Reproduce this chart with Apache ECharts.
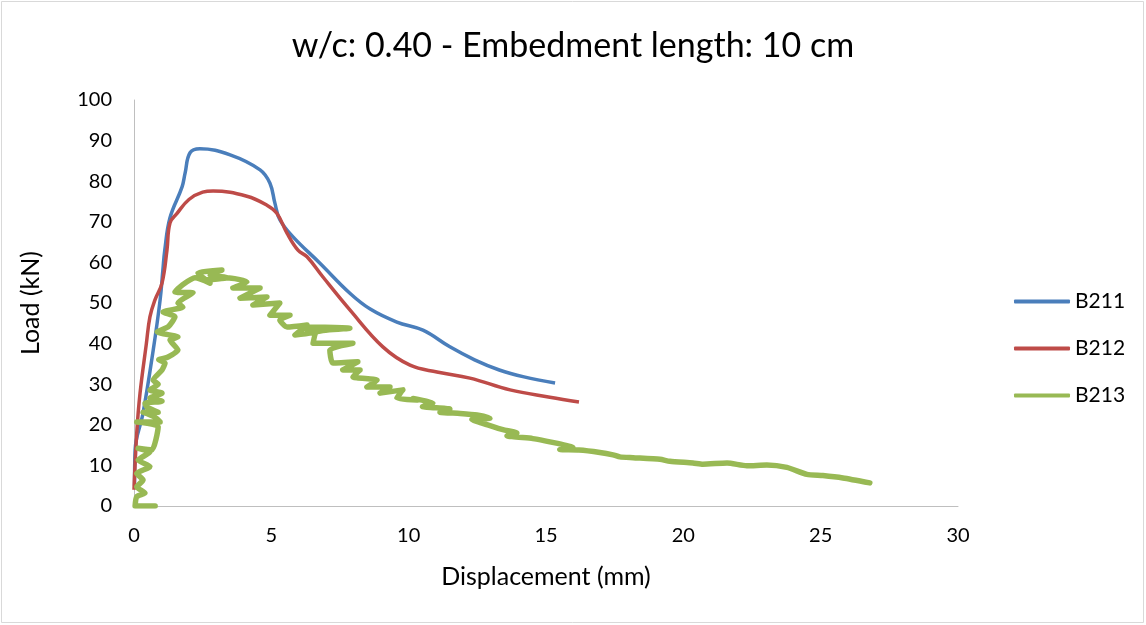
<!DOCTYPE html>
<html>
<head>
<meta charset="utf-8">
<script src="https://cdn.jsdelivr.net/npm/echarts@6/dist/echarts.min.js"></script>
<style>
html,body{margin:0;padding:0;background:#fff;}
#chart{width:1146px;height:625px;}
</style>
</head>
<body>
<div id="chart"></div>
<script>
const titleText = 'w/c: 0.40 - Embedment length: 10 cm';
const xName = 'Displacement (mm)';
const yName = 'Load (kN)';
const seriesNames = ['B211', 'B212', 'B213'];

const b211 = [[0.02,5],[0.04,13.8],[0.33,22.9],[0.7,38.4],[0.95,50.7],[1.05,58],[1.12,63],[1.31,71],[1.75,78.6],[1.86,82],[2.04,87],[2.4,88],[3.5,86.5],[4.59,82.8],[4.95,79.5],[5.13,74.6],[5.31,70.5],[5.79,66.3],[6.77,59.8],[7.86,52.4],[8.6,48.5],[9.57,45.3],[10.52,43.3],[11.5,39.2],[12.4,36],[13.3,33.5],[14.2,31.8],[15.33,30.3]];

const b212 = [[0,4],[0.1,18],[0.22,27.8],[0.45,40],[0.58,46.6],[0.76,50.7],[1.02,54.9],[1.2,63],[1.31,69.7],[1.56,72],[2.0,75.5],[2.5,77.3],[2.88,77.6],[4.11,76.3],[4.84,74.1],[5.2,72.1],[5.57,67.2],[5.97,63],[6.3,61.4],[6.88,56.4],[7.86,48.3],[9.06,39.2],[10.05,34.7],[11.03,33],[12.23,31.5],[13.69,28.6],[15.14,26.8],[16.2,25.6]];

const b213 = [[0.77,0],[0.04,0],[0.1,2.3],[0.4,3.2],[0.1,4.7],[0.33,6.4],[0.1,8],[0.58,9.7],[0.15,11.3],[0.58,13.3],[0.15,14.2],[0.65,13.8],[0.88,19.5],[0.1,20.7],[0.95,20.7],[0.76,21.9],[0.33,23.1],[0.88,23.1],[0.47,24.4],[0.4,25.3],[1.02,25.8],[0.58,26.6],[1.02,27.8],[0.58,28.6],[0.88,30],[0.7,31],[1.02,33.5],[1.13,35.2],[0.9,36],[1.24,36.7],[1.6,38.4],[1.31,40.9],[1.6,41.6],[0.84,42.9],[1.24,44.1],[1.49,46.6],[1.06,47.8],[1.78,49],[1.6,50],[2.15,52.5],[1.49,52.7],[1.75,54.4],[2.22,56.2],[2.77,54.9],[2.33,57.4],[3.2,58.1],[2.77,56.9],[3.42,56.2],[2.66,55.7],[3.39,56.2],[4.11,55.2],[3.6,53.7],[4.59,53.7],[3.86,51.2],[4.84,51.5],[4.33,49.5],[5.31,50],[4.95,47],[5.68,47],[5.31,45.8],[5.57,44.1],[6.3,44.6],[5.86,42.1],[6.66,42.9],[6.04,44.1],[7.86,43.8],[6.66,42.9],[6.52,40.1],[7.97,40.1],[7.13,38.4],[7.24,35.2],[8.15,35.5],[7.6,33.5],[8.23,33.5],[7.97,31.8],[8.85,31],[8.48,29.3],[9.32,29.3],[8.96,27.8],[9.79,28.6],[9.57,26.6],[10.3,26.1],[10.16,26.5],[10.88,25.4],[10.5,24.5],[11.5,23.9],[11.14,23.1],[11.87,22.8],[12.49,22.4],[12.96,21.6],[12.3,21.3],[12.96,19.8],[13.43,18.8],[13.94,18],[13.58,17.3],[14.52,16.6],[15.14,15.8],[15.98,14.4],[15.5,13.9],[16.2,13.8],[16.96,13.2],[17.44,12.6],[17.69,12.1],[18.17,11.9],[19.15,11.5],[19.51,11.0],[20.35,10.6],[20.71,10.3],[21.59,10.6],[22.31,9.9],[23.04,10.1],[23.77,9.5],[24.5,7.8],[25.08,7.5],[25.81,6.9],[26.79,5.7]];

const colors = ['#4A7EBB', '#BE4B48', '#98B954'];
const font = 'Lato, "Liberation Sans", sans-serif';

const chart = echarts.init(document.getElementById('chart'), null, {renderer: 'canvas'});
chart.setOption({
  animation: false,
  backgroundColor: '#fff',
  color: colors,
  graphic: [{
    type: 'rect',
    shape: {x: 1.5, y: 1.5, width: 1142, height: 621},
    style: {fill: 'none', stroke: '#D9D9D9', lineWidth: 1},
    silent: true
  }],
  title: {
    text: titleText,
    left: 'center',
    top: 24,
    textStyle: {fontFamily: font, fontSize: 34, fontWeight: 'normal', color: '#000'}
  },
  legend: {
    orient: 'vertical',
    left: 1009,
    top: 285,
    itemWidth: 56,
    itemHeight: 4,
    itemGap: 24,
    icon: 'roundRect',
    data: seriesNames,
    textStyle: {fontFamily: font, fontSize: 21, color: '#000', lineHeight: 23}
  },
  grid: {left: 134, right: 188, top: 100, bottom: 119, containLabel: false},
  xAxis: {
    type: 'value',
    min: 0, max: 30, interval: 5,
    name: xName,
    nameLocation: 'middle',
    nameGap: 58,
    nameTextStyle: {fontFamily: font, fontSize: 25, color: '#000'},
    axisLine: {show: true, lineStyle: {color: '#BFBFBF', width: 1}},
    axisTick: {show: false},
    splitLine: {show: false},
    axisLabel: {fontFamily: font, fontSize: 20, color: '#000', margin: 20}
  },
  yAxis: {
    type: 'value',
    min: 0, max: 100, interval: 10,
    name: yName,
    nameLocation: 'middle',
    nameGap: 91,
    nameRotate: 90,
    nameTextStyle: {fontFamily: font, fontSize: 25, color: '#000'},
    axisLine: {show: true, lineStyle: {color: '#BFBFBF', width: 1}},
    axisTick: {show: false},
    splitLine: {show: false},
    axisLabel: {fontFamily: font, fontSize: 20, color: '#000', margin: 22}
  },
  series: [
    {name: seriesNames[0], type: 'line', data: b211, smooth: 0.4, symbol: 'none', lineStyle: {width: 3.5, color: colors[0]}, itemStyle: {color: colors[0]}},
    {name: seriesNames[1], type: 'line', data: b212, smooth: 0.4, symbol: 'none', lineStyle: {width: 3.5, color: colors[1]}, itemStyle: {color: colors[1]}},
    {name: seriesNames[2], type: 'line', data: b213, smooth: 0.2, symbol: 'none', lineStyle: {width: 5.5, color: colors[2], cap: 'round', join: 'round'}, itemStyle: {color: colors[2]}}
  ]
});
</script>
</body>
</html>
